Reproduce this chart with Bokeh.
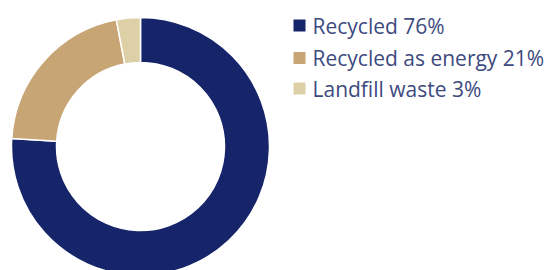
import numpy as np
from bokeh.plotting import figure
from bokeh.models import Range1d, ColumnDataSource
from bokeh.core.properties import value
from bokeh.embed import file_html
from bokeh.resources import INLINE

categories = ["Recycled", "Recycled as energy", "Landfill waste"]
shares = [76, 21, 3]
colors = ["#16256a", "#c8a574", "#ded0a6"]
labels = [f"{c} {s}%" for c, s in zip(categories, shares)]

W, H = 553, 270
p = figure(width=W, height=H, output_backend="svg", toolbar_location=None,
           x_range=Range1d(0, W), y_range=Range1d(H, 0), min_border=0)
p.axis.visible = False
p.grid.visible = False
p.outline_line_color = None
p.background_fill_color = "white"

frac = np.array(shares) / sum(shares)
cum = np.concatenate([[0], np.cumsum(frac)])
start = np.pi / 2 - cum[:-1] * 2 * np.pi
end = np.pi / 2 - cum[1:] * 2 * np.pi
src = ColumnDataSource(dict(start=start, end=end, color=colors))
p.annular_wedge(x=140, y=146, inner_radius=84, outer_radius=129,
                start_angle="start", end_angle="end", direction="clock",
                fill_color="color", line_color="white", line_width=1.5, source=src)

ly = [25, 57.5, 88]
lsrc = ColumnDataSource(dict(y=ly, color=colors, label=labels))
p.rect(x=299, y="y", width=12, height=12, width_units="screen", height_units="screen",
       fill_color="color", line_color=None, source=lsrc)
p.text(x=312, y="y", text="label", source=lsrc, text_font=value("Open Sans"),
       text_font_size="21px", text_color="#3d4a80", text_baseline="middle")

open("out.html", "w").write(file_html(p, INLINE))
